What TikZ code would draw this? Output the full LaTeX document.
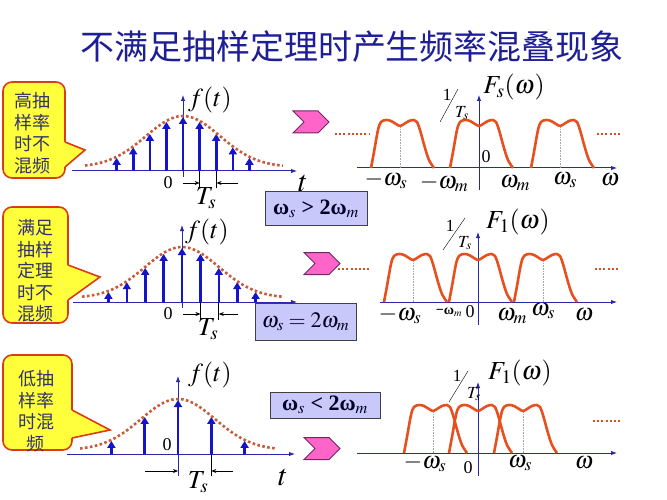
\documentclass[tikz,border=0pt]{standalone}
\usepackage{mathptmx}
\usepackage{fontspec}
\setmainfont{Liberation Serif}
\newfontfamily\cjk{Noto Sans CJK SC}
\usetikzlibrary{arrows.meta,shapes.symbols}

\definecolor{titleblue}{RGB}{30,30,150}
\definecolor{axblue}{RGB}{40,40,170}
\definecolor{stemblue}{RGB}{20,20,200}
\definecolor{bellred}{RGB}{200,90,60}
\definecolor{specred}{RGB}{230,80,30}
\definecolor{dotred}{RGB}{210,80,40}
\definecolor{calloutred}{RGB}{220,60,20}
\definecolor{calloutyellow}{RGB}{255,255,60}
\definecolor{cjkblue}{RGB}{50,50,110}
\definecolor{condfill}{RGB}{200,200,250}
\definecolor{chevpink}{RGB}{255,100,200}
\definecolor{chevborder}{RGB}{110,40,100}

% height of the bell curve above the time axis
\newcommand\bellh[1]{(4+51*exp(-(#1)^2/2738))}

\tikzset{
  band/.pic={
    \draw[spec] plot[smooth,tension=0.55] coordinates {(-29,0) (-26,-16) (-22,-38) (-19,-46) (-14,-48) (-9,-47) (-4,-44) (0,-42) (4,-44) (9,-47) (14,-48) (17,-46) (20,-38) (25,-20) (29,-8) (34,0)};
  }
}

\begin{document}
\begin{tikzpicture}[x=1pt,y=-1pt,
    axis/.style={draw=axblue,line width=1pt,-{Latex[length=6pt,width=4.5pt]}},
    stem/.style={draw=stemblue,line width=2.6pt,-{Triangle[length=7pt,width=8pt]}},
    bell/.style={draw=bellred,line width=2.6pt,dash pattern=on 2.6pt off 2.4pt},
    spec/.style={draw=specred,line width=2.6pt,line join=round},
    guide/.style={draw=gray!70,line width=0.6pt,densely dotted},
    more/.style={draw=dotred,line width=2pt,dash pattern=on 2pt off 2.2pt},
    tick/.style={draw=black,line width=0.7pt},
    tsarrow/.style={draw=black,line width=0.7pt,-{Stealth[length=5pt,width=4pt]}},
    callbox/.style={draw=calloutred,fill=calloutyellow,line width=1.6pt,rounded corners=9pt,inner sep=0pt},
    callline/.style={draw=calloutred,line width=1.6pt},
    calltext/.style={font=\cjk\fontsize{18}{21.5}\selectfont,text=cjkblue,align=center,inner sep=0pt},
    cond/.style={draw=black!75,fill=condfill,line width=1pt,inner sep=0pt,text=black!85!blue,font=\fontsize{22}{22}\selectfont},
    chev/.style={shape=signal,signal from=west,signal to=east,draw=chevborder,fill=chevpink,line width=1pt,minimum width=36pt,minimum height=22pt,inner sep=0pt},
    lab/.style={font=\fontsize{26}{26}\selectfont,inner sep=0pt},
    wlab/.style={font=\fontsize{24}{24}\selectfont,inner sep=0pt},
    tlab/.style={font=\fontsize{30}{30}\selectfont,inner sep=0pt},
    zero/.style={font=\fontsize{18}{18}\selectfont,inner sep=0pt},
    small/.style={font=\fontsize{14}{14}\selectfont,inner sep=0pt},
    recip/.style={font=\fontsize{17}{17}\selectfont,inner sep=0pt}]
  \useasboundingbox (0,0) rectangle (667,500);
  %Title
  \node[font=\cjk\fontsize{34}{34}\selectfont,text=titleblue] (title) at (352,47) {不满足抽样定理时产生频率混叠现象};

  %Row 1: high sampling rate
  \node[callbox,minimum width=62pt,minimum height=96pt] (box1) at (34,130) {};
  \fill[calloutyellow] (63,142) -- (66,142) -- (85,150) -- (66,167) -- (63,167) -- cycle;
  \draw[callline] (65,142) -- (85,150) -- (65,167);
  \node[calltext] (txt1) at (33,133) {高抽\\样率\\时不\\混频};
  \draw[axis] (72,171) -- (297,171);
  \draw[axis] (183,177) -- (183,95);
  \foreach \k in {-4,...,4}
    \draw[stem] ({183+16.6*\k},171) -- ({183+16.6*\k},{172-\bellh{16.6*\k}});
  \draw[bell] plot[domain=-98:100,samples=50] ({183+\x},{171-\bellh{\x}});
  \draw[tick] (199.6,171) -- (199.6,188) (216.6,171) -- (216.6,188);
  \draw[tsarrow] (183,183) -- (199.6,183);
  \draw[tsarrow] (238,183) -- (216.6,183);
  \node[lab] (ft1) at (210,100) {$f(t)$};
  \node[zero] (o1) at (168,183) {0};
  \node[lab] (Ts1) at (206,198) {$T_s$};
  \node[tlab] (t1) at (303,184) {$t$};
  \node[chev] (go1) at (311,122) {};
  \node[cond,minimum width=102pt,minimum height=33pt] (cond1) at (316,208.5) {\bfseries ω$_{s}$ > 2ω$_{m}$};
  \draw[more] (335,134) -- (370,134);
  \draw[more] (597,134) -- (620,134);
  \draw[axis] (357,168) -- (617,168);
  \draw[axis] (479,190) -- (479,95);
  \foreach \c in {400,560} \draw[guide] (\c,168) -- (\c,126);
  \foreach \c in {400,479,560} \pic at (\c,168) {band};
  \node[recip] (one1) at (447,95) {1};
  \draw[thin] (440,122) -- (458,89);
  \node[recip] (rec1) at (462,113) {$T_s$};
  \node[lab] (Fw1) at (514,87) {$F_s(\omega)$};
  \node[zero] (p1) at (486,157) {0};
  \node[wlab] (ws1l) at (386,180) {$-\omega_s$};
  \node[wlab] (wm1l) at (444,183) {$-\omega_m$};
  \node[wlab] (wm1r) at (515,183) {$\omega_m$};
  \node[wlab] (ws1r) at (565,180) {$\omega_s$};
  \node[wlab] (w1) at (610,180) {$\omega$};

  %Row 2: sampling theorem just met
  \node[callbox,minimum width=65pt,minimum height=116pt] (box2) at (35.5,265) {};
  \fill[calloutyellow] (66,265) -- (69,265) -- (100,277) -- (69,300) -- (66,300) -- cycle;
  \draw[callline] (68,265) -- (100,277) -- (68,300);
  \node[calltext] (txt2) at (35,271) {满足\\抽样\\定理\\时不\\混频};
  \node[cond,minimum width=101pt,minimum height=37pt] (cond2) at (305.5,321.5) {$\omega_s = 2\omega_m$};
  \draw[axis] (73,302) -- (297,302);
  \draw[axis] (182,308) -- (182,225);
  \foreach \k in {-4,...,4}
    \draw[stem] ({182+18.4*\k},302) -- ({182+18.4*\k},{303-\bellh{18.4*\k}});
  \draw[bell] plot[domain=-100:100,samples=50] ({182+\x},{302-\bellh{\x}});
  \draw[tick] (200.4,302) -- (200.4,320) (218.8,302) -- (218.8,320);
  \draw[tsarrow] (183,314) -- (200.4,314);
  \draw[tsarrow] (238,314) -- (218.8,314);
  \node[lab] (ft2) at (207,232) {$f(t)$};
  \node[zero] (o2) at (168,314) {0};
  \node[lab] (Ts2) at (208,329) {$T_s$};
  \node[chev] (go2) at (322,263.5) {};
  \draw[more] (338,269) -- (370,269);
  \draw[more] (595,269) -- (620,269);
  \draw[axis] (380,302) -- (617,302);
  \draw[axis] (478,325) -- (478,232);
  \foreach \c in {413,543} \draw[guide] (\c,302) -- (\c,261);
  \foreach \c in {413,478,543} \pic at (\c,302) {band};
  \node[recip] (one2) at (450,226) {1};
  \draw[thin] (443,250) -- (465,218);
  \node[recip] (rec2) at (465,243) {$T_s$};
  \node[lab] (Fw2) at (518,222) {$F_1(\omega)$};
  \node[wlab] (ws2l) at (400,315) {$-\omega_s$};
  \node[small] (wm2l) at (449,312) {\bfseries −ω$_{m}$};
  \node[zero] (p2) at (470,312) {0};
  \node[wlab] (wm2r) at (512,316) {$\omega_m$};
  \node[wlab] (ws2r) at (543,311) {$\omega_s$};
  \node[wlab] (w2) at (584,315) {$\omega$};

  %Row 3: low sampling rate
  \node[callbox,minimum width=69pt,minimum height=95pt] (box3) at (37.5,402.5) {};
  \fill[calloutyellow] (70,410) -- (73,410) -- (110,430) -- (73,438) -- (70,438) -- cycle;
  \draw[callline] (72,410) -- (110,430) -- (72,438);
  \node[calltext] (txt3) at (36,411) {低抽\\样率\\时混\\频};
  \draw[axis] (67,454) -- (295,454);
  \draw[axis] (178,476) -- (178,376);
  \foreach \k in {-2,...,2}
    \draw[stem] ({178+33.3*\k},454) -- ({178+33.3*\k},{455-\bellh{33.3*\k}});
  \draw[bell] plot[domain=-98:97,samples=50] ({178+\x},{454-\bellh{\x}});
  \draw[tick] (211.3,454) -- (211.3,476);
  \draw[tsarrow] (145,471) -- (178,471);
  \draw[tsarrow] (233,471) -- (211.3,471);
  \node[lab] (ft3) at (210,375) {$f(t)$};
  \node[zero] (o3) at (167,445) {0};
  \node[lab] (Ts3) at (198,482) {$T_s$};
  \node[tlab] (t3) at (283,478) {$t$};
  \node[cond,minimum width=110pt,minimum height=26pt] (cond3) at (325,405) {\bfseries ω$_{s}$ < 2ω$_{m}$};
  \node[chev] (go3) at (322,448.5) {};
  \draw[more] (593,421) -- (620,421);
  \draw[axis] (357,453) -- (617,453);
  \draw[axis] (478,476) -- (478,382);
  \foreach \c in {433,523} \draw[guide] (\c,453) -- (\c,412);
  \foreach \c in {433,478,523} \pic at (\c,453) {band};
  \node[recip] (one3) at (457,376) {1};
  \draw[thin] (449,402) -- (468,371);
  \node[recip] (rec3) at (474,394) {$T_s$};
  \node[lab] (Fw3) at (520,373) {$F_1(\omega)$};
  \node[wlab] (ws3l) at (425,463) {$-\omega_s$};
  \node[zero] (p3) at (468,468) {0};
  \node[wlab] (ws3r) at (520,463) {$\omega_s$};
  \node[wlab] (w3) at (584,463) {$\omega$};
\end{tikzpicture}
\end{document}
